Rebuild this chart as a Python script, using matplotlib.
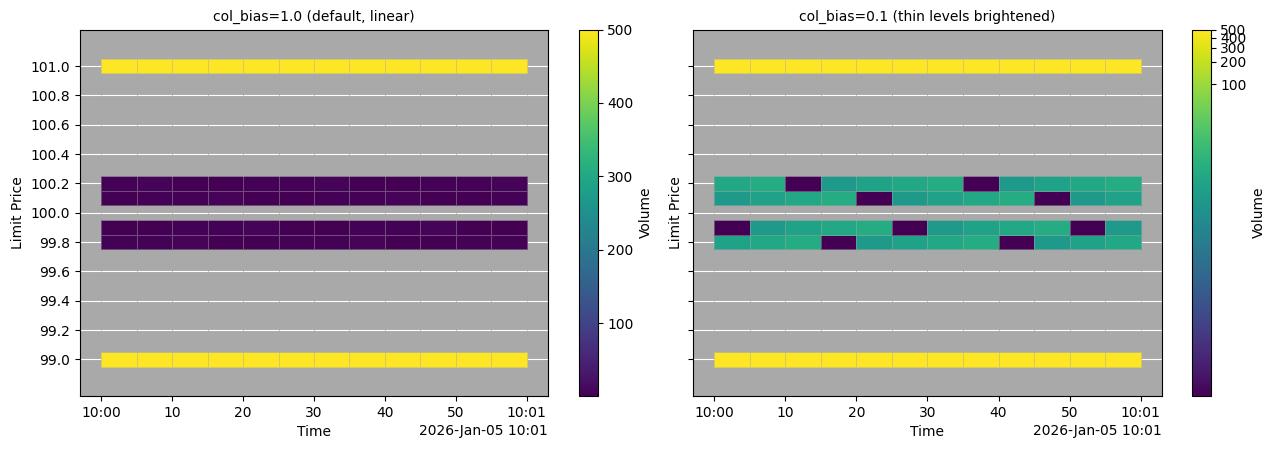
import numpy as np
import pandas as pd
import matplotlib
matplotlib.use("Agg")
import matplotlib.pyplot as plt
import matplotlib.dates as mdates
from matplotlib.colors import Normalize, PowerNorm

# time bins (5 s) and price levels
t_start = "2026-01-05 10:00:00"
t_end = "2026-01-05 10:01:00"
bin_seconds = 5
tick_size = 0.1

price_levels = [99.0, 99.8, 99.9, 100.1, 100.2, 101.0]

# volume per time bin for each price level
vol_990 = [500] * 12
vol_998 = [3, 4, 5, 1, 2, 3, 4, 5, 1, 2, 3, 4]
vol_999 = [1, 2, 3, 4, 5, 1, 2, 3, 4, 5, 1, 2]
vol_1001 = [2, 3, 4, 5, 1, 2, 3, 4, 5, 1, 2, 3]
vol_1002 = [4, 5, 1, 2, 3, 4, 5, 1, 2, 3, 4, 5]
vol_1010 = [500] * 12

volumes = [vol_990, vol_998, vol_999, vol_1001, vol_1002, vol_1010]

titles = ["col_bias=1.0 (default, linear)", "col_bias=0.1 (thin levels brightened)"]
col_bias = [1.0, 0.1]

# build full price grid, empty levels masked
t_edges = pd.date_range(t_start, t_end, freq=f"{bin_seconds}s")
x_edges = mdates.date2num(t_edges.to_pydatetime())
grid_prices = np.round(np.arange(min(price_levels), max(price_levels) + tick_size / 2, tick_size), 1)
y_edges = np.append(grid_prices - tick_size / 2, grid_prices[-1] + tick_size / 2)

Z = np.full((len(grid_prices), len(t_edges) - 1), np.nan)
for p, v in zip(price_levels, volumes):
    i = int(np.argmin(np.abs(grid_prices - p)))
    Z[i, :] = v
Z = np.ma.masked_invalid(Z)
vmin, vmax = Z.min(), Z.max()

W, H = 1276, 450
fig = plt.figure(figsize=(W / 100, H / 100))

def px_axes(x0, x1, y0=29.5, y1=396, **kw):
    return fig.add_axes([x0 / W, 1 - y1 / H, (x1 - x0) / W, (y1 - y0) / H], **kw)

ax1 = px_axes(80, 548)
ax2 = px_axes(693, 1162, sharey=ax1)
cax1 = px_axes(578.5, 597.5)
cax2 = px_axes(1192, 1210.5)

span = x_edges[-1] - x_edges[0]

for ax, cax, title, bias in zip([ax1, ax2], [cax1, cax2], titles, col_bias):
    if bias == 1.0:
        norm = Normalize(vmin=vmin, vmax=vmax)
    else:
        norm = PowerNorm(gamma=bias, vmin=vmin, vmax=vmax)

    ax.set_facecolor("darkgray")
    ax.set_axisbelow(True)
    ax.grid(axis="y", color="white", linewidth=0.8)

    mesh = ax.pcolormesh(x_edges, y_edges, Z, cmap="viridis", norm=norm,
                         edgecolors=(0.66, 0.66, 0.66, 0.45), linewidth=0.6)

    cbar = fig.colorbar(mesh, cax=cax)
    cbar.set_ticks([100, 200, 300, 400, 500])
    cbar.set_label("Volume")

    ax.set_title(title, fontsize=10)
    ax.set_xlabel("Time")
    ax.set_ylabel("Limit Price")

    loc = mdates.SecondLocator(bysecond=range(0, 60, 10))
    ax.xaxis.set_major_locator(loc)
    ax.xaxis.set_major_formatter(mdates.ConciseDateFormatter(loc))
    ax.set_xlim(x_edges[0] - 0.05 * span, x_edges[-1] + 0.05 * span)

    ax.set_yticks(np.round(np.arange(99.0, 101.01, 0.2), 1))
    ax.yaxis.set_major_formatter(matplotlib.ticker.FormatStrFormatter("%.1f"))
    ax.set_ylim(98.75, 101.25)

ax2.tick_params(axis="y", labelleft=False)

plt.savefig("out.png", dpi=100)
